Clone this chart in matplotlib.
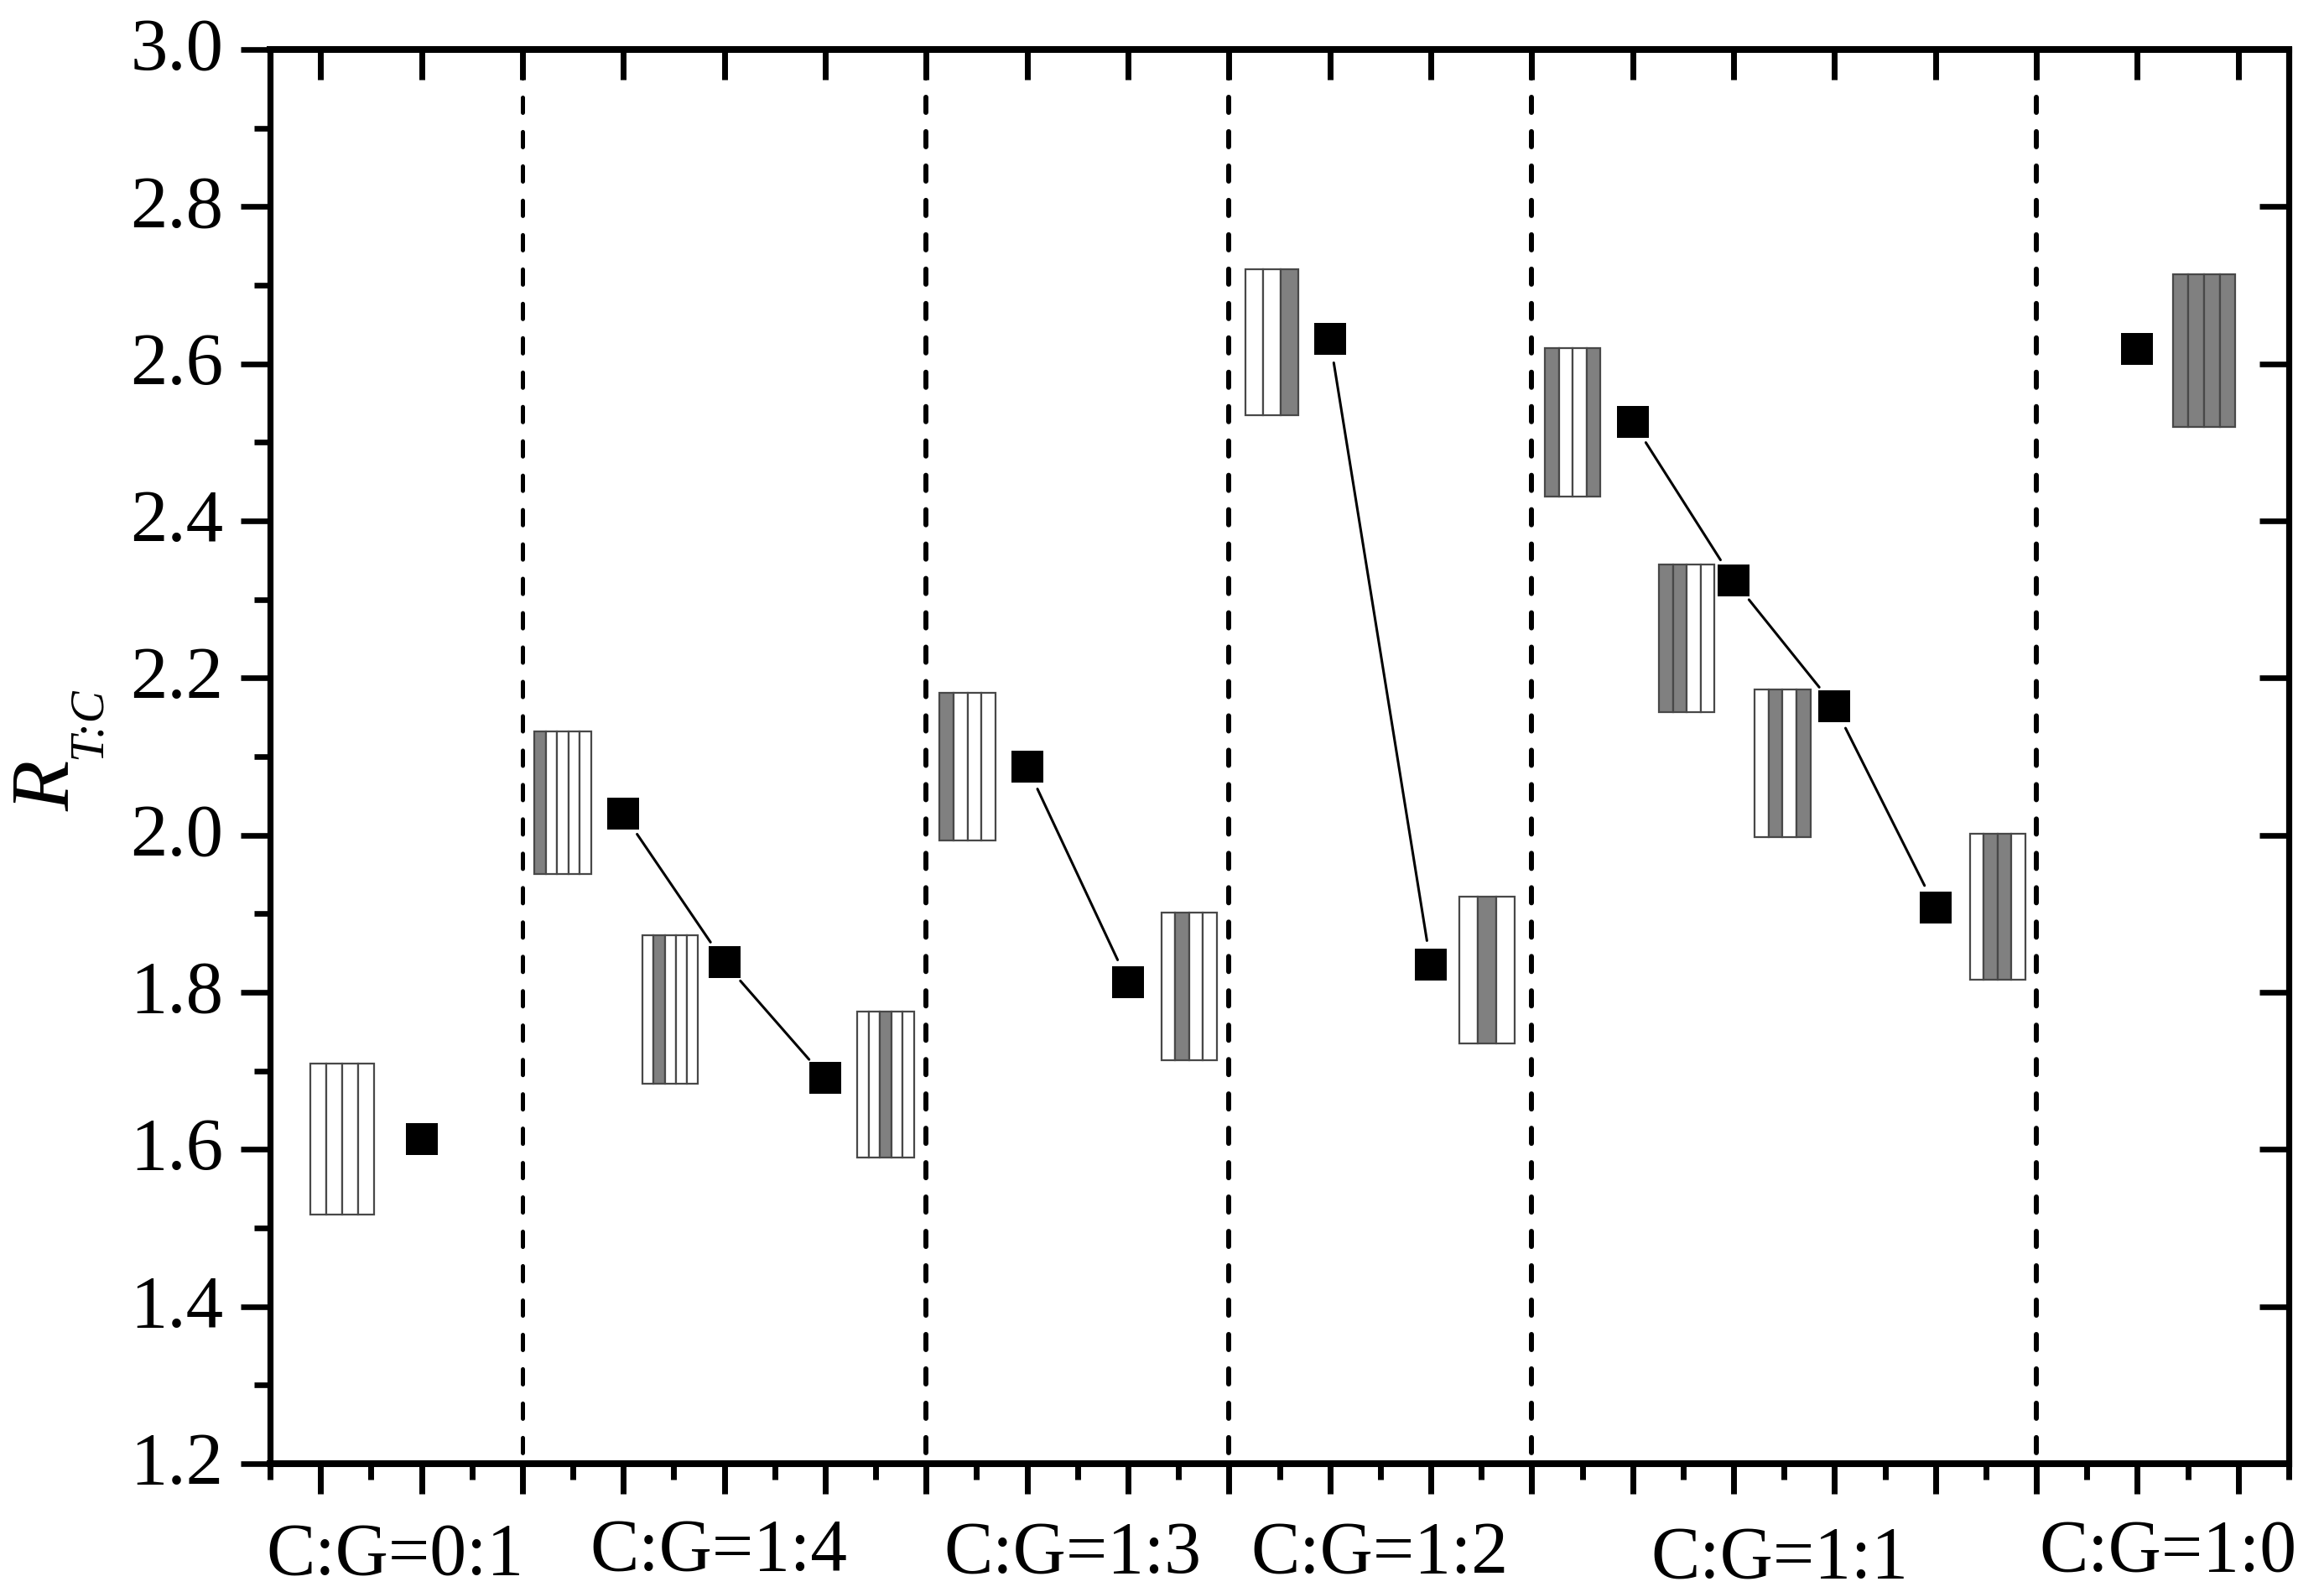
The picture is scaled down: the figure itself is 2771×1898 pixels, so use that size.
import matplotlib
matplotlib.use("Agg")
import matplotlib.pyplot as plt
import numpy as np
from matplotlib.ticker import MultipleLocator
from matplotlib.transforms import ScaledTranslation

plt.rcParams['font.family'] = ['Liberation Serif', 'DejaVu Serif']
plt.rcParams['lines.scale_dashes'] = False

# Measured ratio, one list per C:G group
group_labels = ['C:G=0:1', 'C:G=1:4', 'C:G=1:3', 'C:G=1:2', 'C:G=1:1', 'C:G=1:0']
group_x = [[2], [4, 5, 6], [8, 9], [11, 12], [14, 15, 16, 17], [19]]
group_y = [[1.613], [2.027, 1.838, 1.691], [2.087, 1.813], [2.632, 1.835],
           [2.526, 2.324, 2.164, 1.908], [2.619]]
separators = [3, 7, 10, 13, 18]
separator_lw = [3.6, 4.3, 4.3, 4.3, 4.3]

# Layer schematics: x range, y range and which strips are dark
box_left = [0.90, 3.12, 4.19, 6.32, 7.13, 9.33, 10.16, 12.28, 13.13, 14.26, 15.21, 17.34, 19.35]
box_right = [1.53, 3.68, 4.74, 6.88, 7.69, 9.88, 10.69, 12.83, 13.68, 14.81, 15.76, 17.89, 19.97]
box_top = [1.709, 2.132, 1.873, 1.775, 2.181, 1.901, 2.720, 1.922, 2.620, 2.345, 2.185, 2.002, 2.714]
box_bottom = [1.517, 1.951, 1.684, 1.590, 1.993, 1.714, 2.534, 1.735, 2.431, 2.157, 1.998, 1.816, 2.520]
box_strips = [[0, 0, 0, 0], [1, 0, 0, 0, 0], [0, 1, 0, 0, 0], [0, 0, 1, 0, 0],
              [1, 0, 0, 0], [0, 1, 0, 0], [0, 0, 1], [0, 1, 0],
              [1, 0, 0, 1], [1, 1, 0, 0], [0, 1, 0, 1], [0, 1, 1, 0], [1, 1, 1, 1]]

# Pixel layout of the group captions under the axis
label_px = [471, 857, 1279, 1645, 2122, 2585]
label_base_px = [1877, 1872, 1875, 1875, 1881, 1873]

W, H = 2771, 1899
fig = plt.figure(figsize=(W / 100, H / 100), dpi=100)
ax = fig.add_axes([322 / W, 1 - 1746 / H, (2729 - 322) / W, (1746 - 60) / H])

# Strips of every box
for left, right, top, bottom, strips in zip(box_left, box_right, box_top, box_bottom, box_strips):
    edges = np.linspace(left, right, len(strips) + 1)
    colors = ['#808080' if s else 'white' for s in strips]
    ax.bar(edges[:-1], top - bottom, width=np.diff(edges), bottom=bottom, align='edge',
           color=colors, edgecolor='#484848', linewidth=1.6, zorder=2)

# Separators between groups
for x, lw in zip(separators, separator_lw):
    ax.plot([x, x], [3.0, 1.2], color='k', lw=lw, linestyle=(18, (13, 16.5)),
            dash_capstyle='round', zorder=1)

# Points, lines stop short of the squares
for xs, ys in zip(group_x, group_y):
    ax.plot(xs, ys, linestyle='none', marker='s', color='k', markersize=27.5, mew=0, zorder=3)
    for i in range(len(xs) - 1):
        ax.annotate('', xy=(xs[i + 1], ys[i + 1]), xytext=(xs[i], ys[i]),
                    arrowprops=dict(arrowstyle='-', color='k', lw=2.2, shrinkA=21, shrinkB=21))

ax.set_xlim(0.5, 20.5)
ax.set_ylim(1.2, 3.0)

ax.xaxis.set_major_locator(MultipleLocator(1))
ax.xaxis.set_minor_locator(MultipleLocator(0.5))
ax.yaxis.set_major_locator(MultipleLocator(0.2))
ax.yaxis.set_minor_locator(MultipleLocator(0.1))
ax.tick_params(axis='x', which='major', direction='out', length=26, width=5, top=True, labelbottom=False)
ax.tick_params(axis='x', which='minor', direction='out', length=14, width=5)
ax.tick_params(axis='y', which='major', direction='out', length=25, width=4.8, right=True, pad=15, labelsize=64)
ax.tick_params(axis='y', which='minor', direction='out', length=14, width=4.8)
# top and right ticks point inwards, majors only
for tick in ax.xaxis.get_major_ticks():
    tick.tick2line.set_marker(matplotlib.markers.TICKDOWN)
for tick in ax.yaxis.get_major_ticks():
    tick.tick2line.set_marker(matplotlib.markers.TICKLEFT)
ax.set_yticks(np.arange(12, 31, 2) / 10)
ax.set_yticklabels(['%.1f' % v for v in np.arange(12, 31, 2) / 10])
for lab in ax.get_yticklabels():
    lab.set_transform(lab.get_transform() + ScaledTranslation(0, 8 / 100, fig.dpi_scale_trans))

for spine in ax.spines.values():
    spine.set_linewidth(5.2)
ax.spines['top'].set_linewidth(5.8)
ax.spines['bottom'].set_linewidth(5.8)

for label, px, base in zip(group_labels, label_px, label_base_px):
    fig.text(px / W, 1 - base / H, label, fontsize=63, ha='center', va='baseline')

# R with a separate subscript
fig.text(82 / W, 1 - 967 / H, 'R', fontsize=71, style='italic', rotation=90,
         rotation_mode='anchor', ha='left', va='baseline')
fig.text(120 / W, 1 - 905 / H, 'T:C', fontsize=41, style='italic', rotation=90,
         rotation_mode='anchor', ha='left', va='baseline')

fig.savefig('out.png', dpi=100)
